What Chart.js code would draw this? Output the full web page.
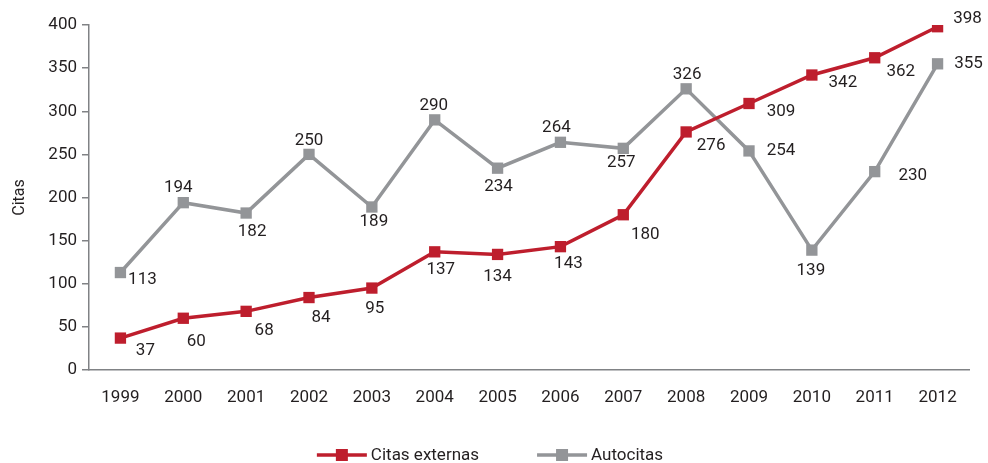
<!DOCTYPE html>
<html>
<head>
<meta charset="utf-8">
<script src="https://cdn.jsdelivr.net/npm/chart.js@4"></script>
<style>
  html, body { margin: 0; padding: 0; background: #fff; }
  #wrap { width: 988px; height: 463px; }
</style>
</head>
<body>
<div id="wrap"><canvas id="chart"></canvas></div>
<script>
// Data
const years = ['1999', '2000', '2001', '2002', '2003', '2004', '2005', '2006', '2007', '2008', '2009', '2010', '2011', '2012'];
const citasExternas = [37, 60, 68, 84, 95, 137, 134, 143, 180, 276, 309, 342, 362, 398];
const autocitas = [113, 194, 182, 250, 189, 290, 234, 264, 257, 326, 254, 139, 230, 355];
const yTicks = [0, 50, 100, 150, 200, 250, 300, 350, 400];

// Label placement (offset from each point, px)
const externasOffsets = [[25, 13], [13, 23], [18, 19], [12, 20], [3, 21], [6, 18], [0, 22], [8, 17], [22, 20], [25, 14], [32, 8], [31, 8], [26, 14], [30, -8]];
const autoOffsets = [[22, 7], [-5, -15], [6, 19], [0, -14], [2, 15], [-1, -14], [1, 19], [-4, -15], [-2, 14], [1, -14], [32, 0], [-1, 21], [38, 4], [31, 0]];

const RED = '#BE1E2D';
const GREY = '#939598';
const TEXT = '#231F20';
const AXIS = '#808285';
const FONT = 'Roboto, "Liberation Sans", sans-serif';

// Point value labels
const valueLabels = {
    id: 'valueLabels',
    afterDatasetsDraw(chart) {
        const ctx = chart.ctx;
        const offsets = [externasOffsets, autoOffsets];
        ctx.save();
        ctx.font = '17px ' + FONT;
        ctx.fillStyle = TEXT;
        ctx.textAlign = 'center';
        ctx.textBaseline = 'middle';
        chart.data.datasets.forEach((ds, i) => {
            const meta = chart.getDatasetMeta(i);
            meta.data.forEach((pt, j) => {
                const off = offsets[i][j];
                ctx.fillText(String(ds.data[j]), pt.x + off[0], pt.y + off[1]);
            });
        });
        ctx.restore();
    }
};

// Bottom legend: line with a square, then the series name
const lineLegend = {
    id: 'lineLegend',
    afterDraw(chart) {
        const ctx = chart.ctx;
        const symW = 50, gap = 4, itemGap = 58;
        const y = 455;
        ctx.save();
        ctx.font = '17px ' + FONT;
        ctx.textBaseline = 'middle';
        ctx.textAlign = 'left';
        const items = chart.data.datasets.map(ds => ({
            label: ds.label,
            color: ds.borderColor,
            w: ctx.measureText(ds.label).width
        }));
        let total = 0;
        items.forEach((it, i) => {
            total += symW + gap + it.w + (i > 0 ? itemGap : 0);
        });
        let x = 490 - total / 2;
        items.forEach(it => {
            ctx.strokeStyle = it.color;
            ctx.lineWidth = 3.5;
            ctx.beginPath();
            ctx.moveTo(x, y);
            ctx.lineTo(x + symW, y);
            ctx.stroke();
            ctx.fillStyle = it.color;
            ctx.fillRect(x + symW / 2 - 6, y - 6, 12, 12);
            ctx.fillStyle = TEXT;
            ctx.fillText(it.label, x + symW + gap, y + 1);
            x += symW + gap + it.w + itemGap;
        });
        ctx.restore();
    }
};

const ctx = document.getElementById('chart').getContext('2d');
new Chart(ctx, {
    type: 'line',
    data: {
        labels: years,
        datasets: [{
            label: 'Citas externas',
            data: citasExternas,
            borderColor: RED,
            backgroundColor: RED,
            borderWidth: 3.5,
            pointStyle: 'rect',
            pointRadius: 8,
            pointBorderWidth: 0,
            pointBackgroundColor: RED,
            tension: 0
        }, {
            label: 'Autocitas',
            data: autocitas,
            borderColor: GREY,
            backgroundColor: GREY,
            borderWidth: 3.5,
            pointStyle: 'rect',
            pointRadius: 8,
            pointBorderWidth: 0,
            pointBackgroundColor: GREY,
            tension: 0
        }]
    },
    options: {
        responsive: true,
        maintainAspectRatio: false,
        animation: false,
        layout: { padding: { top: 25, right: 19, bottom: 53, left: 0 } },
        plugins: {
            tooltip: { enabled: false },
            legend: { display: false }
        },
        scales: {
            x: {
                offset: true,
                grid: { display: false },
                border: { display: true, color: AXIS, width: 1.5 },
                ticks: {
                    color: TEXT,
                    font: { family: FONT, size: 17 },
                    padding: 10,
                    maxRotation: 0
                },
                afterFit(scale) { scale.height = 40; }
            },
            y: {
                min: 0,
                max: 400,
                afterBuildTicks(scale) { scale.ticks = yTicks.map(v => ({ value: v })); },
                grid: {
                    drawOnChartArea: false,
                    drawTicks: true,
                    tickLength: 7,
                    color: AXIS,
                    lineWidth: 1.5
                },
                border: { display: true, color: AXIS, width: 1.5 },
                ticks: {
                    color: TEXT,
                    font: { family: FONT, size: 17 },
                    padding: 5
                },
                title: {
                    display: true,
                    text: 'Citas',
                    color: TEXT,
                    font: { family: FONT, size: 16 },
                    padding: { top: 10, bottom: 8 }
                },
                afterFit(scale) { scale.width = 89; }
            }
        }
    },
    plugins: [valueLabels, lineLegend]
});
</script>
</body>
</html>
